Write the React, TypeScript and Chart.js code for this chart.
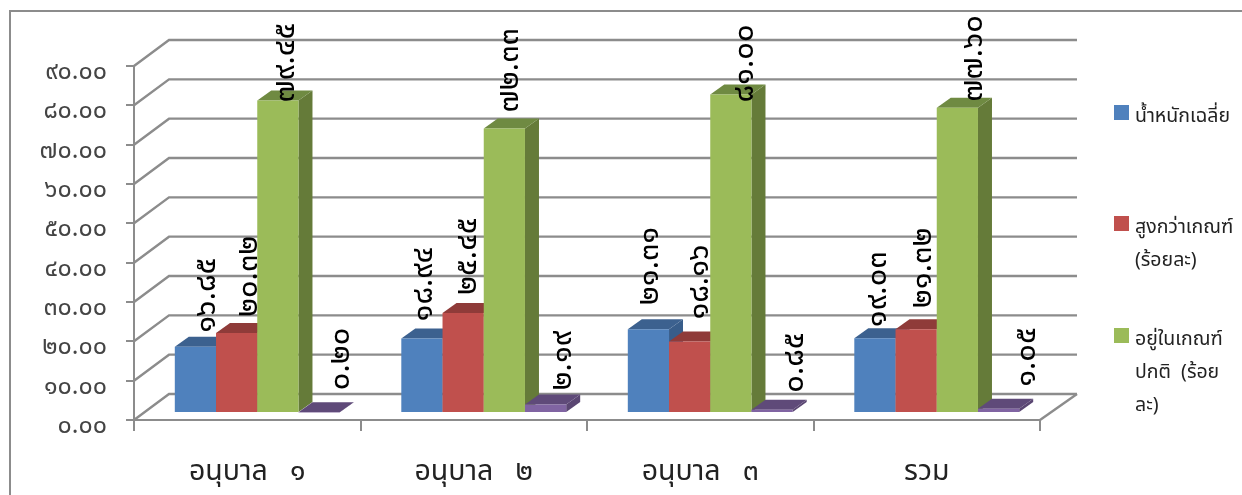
import React, { useEffect, useRef } from "react";
import { Chart, registerables } from "chart.js";

Chart.register(...registerables);

const categories = ["อนุบาล   ๑", "อนุบาล   ๒", "อนุบาล   ๓", "รวม"];
const weightAverage = [16.85, 18.94, 21.31, 19.03];
const aboveCriteria = [20.32, 25.45, 18.16, 21.32];
const withinCriteria = [79.45, 72.33, 81.0, 77.6];
const fourthSeries = [0.2, 2.19, 0.85, 1.05];
const legendLines = [
  ["น้ำหนักเฉลี่ย"],
  ["สูงกว่าเกณฑ์", "(ร้อยละ)"],
  ["อยู่ในเกณฑ์", "ปกติ  (ร้อย", "ละ)"],
];

const THAI = "๐๑๒๓๔๕๖๗๘๙";
const thaiNum = (v: number) => v.toFixed(2).replace(/\d/g, (d) => THAI[+d]);

const FONT = '"Noto Sans", "Noto Sans Thai", "Noto Sans CJK SC", sans-serif';
const GRID = "#8c8c8c";
const WALL_DX = 35, WALL_DY = -26, RIGHT_WALL_X = 1077;
const BAR_DX = 10, BAR_DY = -7, FACE_DX = 14, FACE_DY = -10;

const seriesStyles = [
  { front: "#4F81BD", top: "#3C618F", side: "#385D8A" },
  { front: "#C0504D", top: "#8F3B39", side: "#8C3A38" },
  { front: "#9BBB59", top: "#6F8A42", side: "#657B39" },
  { front: "#8064A2", top: "#5F4A79", side: "#5A4672" },
];
const labelShiftX = [
  [11, 1, 1, 2],
  [12, 4, 10, 6],
  [7, 5, 13, 16],
  [21, 17, 22, 28],
];
const labelGapY = [
  [14, 17, 24, 11],
  [16, 18, 22, 21],
  [-2, 16, -8, 6],
  [22, 14, 17, 22],
];

const poly = (ctx: CanvasRenderingContext2D, pts: number[][], fill: string) => {
  ctx.beginPath();
  pts.forEach((p, i) => (i ? ctx.lineTo(p[0], p[1]) : ctx.moveTo(p[0], p[1])));
  ctx.closePath();
  ctx.fillStyle = fill;
  ctx.fill();
};

const chart3d = {
  id: "chart3d",
  beforeDraw(chart: any) {
    const { ctx, chartArea: a, scales } = chart;
    ctx.save();
    ctx.strokeStyle = GRID;
    ctx.lineWidth = 2;
    // outer frame
    ctx.beginPath();
    ctx.moveTo(10, 495);
    ctx.lineTo(10, 11);
    ctx.lineTo(1242, 11);
    ctx.stroke();
    // back wall + side wall grid
    ctx.lineWidth = 2.4;
    scales.y.ticks.forEach((t: any) => {
      const y = scales.y.getPixelForValue(t.value);
      ctx.beginPath();
      ctx.moveTo(a.left, y);
      ctx.lineTo(a.left + WALL_DX, y + WALL_DY);
      ctx.lineTo(RIGHT_WALL_X, y + WALL_DY);
      ctx.stroke();
    });
    // floor right edge
    ctx.beginPath();
    ctx.moveTo(RIGHT_WALL_X, a.bottom + WALL_DY);
    ctx.lineTo(a.right, a.bottom);
    ctx.stroke();
    ctx.restore();
  },
  // the library's own pass runs last-to-first; the bars are drawn left-to-right below instead
  beforeDatasetDraw() {
    return false;
  },
  afterDatasetsDraw(chart: any) {
    const { ctx } = chart;
    chart.data.datasets.forEach((_: any, si: number) => {
      const meta = chart.getDatasetMeta(si);
      const st = seriesStyles[si];
      ctx.save();
      ctx.translate(BAR_DX, BAR_DY);
      meta.data.forEach((bar: any) => {
        const half = bar.width / 2;
        const l = bar.x - half, r = bar.x + half, t = bar.y, b = bar.base;
        poly(ctx, [[r, t], [r + FACE_DX, t + FACE_DY], [r + FACE_DX, b + FACE_DY], [r, b]], st.side);
        poly(ctx, [[l, t], [r, t], [r + FACE_DX, t + FACE_DY], [l + FACE_DX, t + FACE_DY]], st.top);
      });
      meta.controller.draw();
      ctx.restore();
    });

    ctx.save();
    ctx.fillStyle = "#000";
    ctx.font = `31px ${FONT}`;
    ctx.textAlign = "left";
    ctx.textBaseline = "middle";
    chart.data.datasets.forEach((ds: any, si: number) => {
      chart.getDatasetMeta(si).data.forEach((bar: any, i: number) => {
        const text = thaiNum(ds.data[i]);
        const x = bar.x + BAR_DX + labelShiftX[si][i];
        const y = bar.y + BAR_DY - labelGapY[si][i];
        ctx.save();
        ctx.translate(x, y);
        ctx.rotate(-Math.PI / 2);
        ctx.fillText(text, 0, 0);
        ctx.restore();
      });
    });
    // legend
    const tops = [105, 216, 328];
    ctx.font = `19.5px ${FONT}`;
    legendLines.forEach((lines, i) => {
      ctx.fillStyle = seriesStyles[i].front;
      ctx.fillRect(1114, tops[i], 15, 15);
      ctx.fillStyle = "#222";
      lines.forEach((ln, j) => ctx.fillText(ln, 1135, tops[i] + 11 + j * 33));
    });
    ctx.restore();
  },
};

export default function App() {
  const ref = useRef<HTMLCanvasElement>(null);
  useEffect(() => {
    const mk = (label: string, data: number[], i: number) => ({
      label,
      data,
      backgroundColor: seriesStyles[i].front,
      clip: false as any,
      categoryPercentage: 0.728,
      barPercentage: 1,
    });
    const chart = new Chart(ref.current!, {
      type: "bar",
      data: {
        labels: categories,
        datasets: [
          mk(legendLines[0].join(" "), weightAverage, 0),
          mk(legendLines[1].join(" "), aboveCriteria, 1),
          mk(legendLines[2].join(" "), withinCriteria, 2),
          mk("", fourthSeries, 3),
        ],
      },
      options: {
        responsive: false,
        animation: false,
        layout: { padding: { top: 66, right: 202, left: 0, bottom: 0 } },
        plugins: { legend: { display: false }, title: { display: false }, tooltip: { enabled: false } },
        scales: {
          x: {
            afterFit: (s: any) => { s.height = 75; },
            border: { color: GRID, width: 2 },
            grid: { drawOnChartArea: false, color: GRID, lineWidth: 2, tickLength: 11, offset: true },
            ticks: { color: "#222", font: { family: FONT, size: 28.5 }, padding: 24, maxRotation: 0, autoSkip: false },
          },
          y: {
            min: 0,
            max: 90,
            afterFit: (s: any) => { s.width = 134; },
            border: { color: GRID, width: 2 },
            grid: { drawOnChartArea: false, color: GRID, lineWidth: 2, tickLength: 8 },
            ticks: {
              stepSize: 10,
              color: "#444",
              padding: 19,
              labelOffset: 6,
              font: { family: FONT, size: 25 },
              callback: (v: any) => thaiNum(Number(v)),
            },
          },
        },
      },
      plugins: [chart3d as any],
    });
    return () => chart.destroy();
  }, []);
  return (
    <div style={{ position: "absolute", left: 0, top: 0, width: 1242, height: 495, overflow: "hidden", background: "#fff" }}>
      <canvas ref={ref} width={1242} height={495} style={{ display: "block" }} />
    </div>
  );
}
